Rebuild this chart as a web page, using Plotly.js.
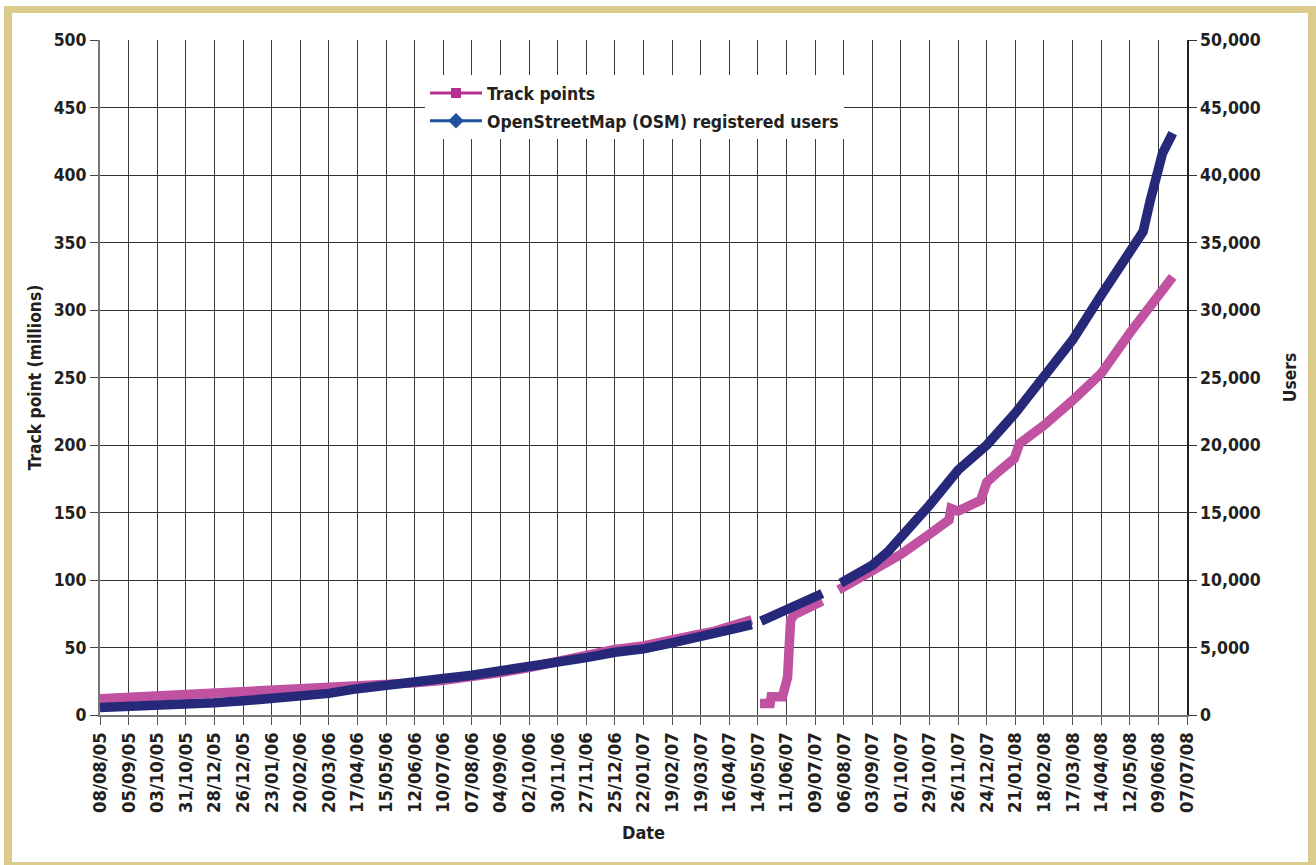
<!DOCTYPE html>
<html>
<head>
<meta charset="utf-8">
<script src="https://cdn.plot.ly/plotly-3.0.1.min.js"></script>
<style>
  html, body { margin:0; padding:0; background:#ffffff; }
  #wrap { position:relative; width:1316px; height:865px; overflow:hidden; background:#fff; }
  #chart { position:absolute; left:0; top:0; width:1316px; height:865px; }
  #frame { position:absolute; left:4px; top:6px; width:1312px; height:859px; box-sizing:border-box;
           border-style:solid; border-color:#dbcb8c; border-width:7px 8px 3px 8px; pointer-events:none; }
</style>
</head>
<body>
<div id="wrap">
  <div id="chart"></div>
  <div id="frame"></div>
</div>
<script>
// ---- tick positions (every 28 days) and the labels printed on the chart ----
const tickDates = [
  '2005-08-08','2005-09-05','2005-10-03','2005-10-31','2005-11-28','2005-12-26','2006-01-23','2006-02-20',
  '2006-03-20','2006-04-17','2006-05-15','2006-06-12','2006-07-10','2006-08-07','2006-09-04','2006-10-02',
  '2006-10-30','2006-11-27','2006-12-25','2007-01-22','2007-02-19','2007-03-19','2007-04-16','2007-05-14',
  '2007-06-11','2007-07-09','2007-08-06','2007-09-03','2007-10-01','2007-10-29','2007-11-26','2007-12-24',
  '2008-01-21','2008-02-18','2008-03-17','2008-04-14','2008-05-12','2008-06-09','2008-07-07'
];
const tickLabels = [
  '08/08/05','05/09/05','03/10/05','31/10/05','28/12/05','26/12/05','23/01/06','20/02/06',
  '20/03/06','17/04/06','15/05/06','12/06/06','10/07/06','07/08/06','04/09/06','02/10/06',
  '30/11/06','27/11/06','25/12/06','22/01/07','19/02/07','19/03/07','16/04/07','14/05/07',
  '11/06/07','09/07/07','06/08/07','03/09/07','01/10/07','29/10/07','26/11/07','24/12/07',
  '21/01/08','18/02/08','17/03/08','14/04/08','12/05/08','09/06/08','07/07/08'
];

// ---- Track points (millions), null = gap in the record ----
const trackDates = [
  '2005-08-08','2005-09-05','2005-10-03','2005-10-31','2005-11-28','2005-12-26','2006-01-23','2006-02-20',
  '2006-03-20','2006-04-17','2006-05-15','2006-06-12','2006-07-10','2006-08-07','2006-09-04','2006-10-02',
  '2006-10-30','2006-11-27','2006-12-25','2007-01-22','2007-02-19','2007-03-19','2007-04-01','2007-04-16',
  '2007-05-08','2007-05-12',
  '2007-05-16','2007-05-26','2007-05-27','2007-06-07','2007-06-12','2007-06-15','2007-06-18','2007-07-01',
  '2007-07-16','2007-07-25',
  '2007-08-01','2007-09-03','2007-10-01','2007-10-29','2007-11-17','2007-11-19','2007-11-26','2007-12-18',
  '2007-12-23','2007-12-24','2008-01-04','2008-01-20','2008-01-25','2008-02-18','2008-03-17','2008-04-14',
  '2008-05-12','2008-06-09','2008-06-23'
];
const trackPoints = [
  12, 13, 14, 15, 16.3, 17.5, 18.3, 19.2,
  20.3, 21.2, 22.3, 23.8, 25.8, 28.3, 31.5, 35.2,
  39.5, 44.5, 48.5, 51.2, 56.5, 60, 62, 66,
  70.5, null,
  8.6, 8.6, 13.6, 13.6, 28, 70, 74, 79,
  84.5, null,
  92.6, 106, 119, 134, 144.5, 153, 151, 159,
  169, 172.5, 180, 190, 201, 214.5, 233, 253,
  283, 310, 324.5
];

// ---- OSM registered users ----
const userDates = [
  '2005-08-08','2005-09-05','2005-10-03','2005-10-31','2005-11-28','2005-12-26','2006-01-23','2006-02-20',
  '2006-03-20','2006-04-17','2006-05-15','2006-06-12','2006-07-10','2006-08-07','2006-09-04','2006-10-02',
  '2006-10-30','2006-11-27','2006-12-25','2007-01-22','2007-02-19','2007-03-19','2007-03-31','2007-04-02',
  '2007-04-16','2007-05-08','2007-05-12',
  '2007-05-17','2007-06-11','2007-07-09','2007-07-16','2007-07-25',
  '2007-08-03','2007-09-03','2007-09-19','2007-10-01','2007-10-29','2007-11-26','2007-12-24','2008-01-21',
  '2008-02-18','2008-03-17','2008-04-14','2008-05-12','2008-05-16','2008-05-25','2008-06-01','2008-06-07',
  '2008-06-13','2008-06-23'
];
const users = [
  550, 600, 680, 780, 900, 1050, 1200, 1350,
  1600, 1950, 2250, 2500, 2700, 2950, 3250, 3600,
  3900, 4250, 4650, 4900, 5350, 5750, 6050, 5950,
  6300, 6700, null,
  6950, 7780, 8600, 9000, null,
  9770, 11100, 12150, 13100, 15550, 18150, 20000, 22370,
  24960, 27780, 31100, 34300, 35000, 35800, 38100, 40000,
  41600, 43100
];

const FONT = '"Liberation Sans Narrow", "Arial Narrow", "DejaVu Sans Condensed", sans-serif';
const TXT = '#231f20';
const PINK = '#c152a2';
const NAVY = '#26287a';

const traces = [
  { x: trackDates, y: trackPoints, type: 'scatter', mode: 'lines', yaxis: 'y',
    line: { color: PINK, width: 9.5 }, connectgaps: false, showlegend: false, hoverinfo: 'skip' },
  { x: userDates, y: users, type: 'scatter', mode: 'lines', yaxis: 'y2',
    line: { color: NAVY, width: 9.5 }, connectgaps: false, showlegend: false, hoverinfo: 'skip' },
  { x: [null], y: [null], type: 'scatter', mode: 'lines+markers', yaxis: 'y', name: 'Track points',
    legendgroup: 'a',
    line: { color: '#b8308f', width: 3 }, marker: { symbol: 'square', size: 10, color: '#b8308f' } },
  { x: [null], y: [null], type: 'scatter', mode: 'lines+markers', yaxis: 'y2', name: 'OpenStreetMap (OSM) registered users',
    legendgroup: 'b',
    line: { color: '#1f4f9f', width: 3 }, marker: { symbol: 'diamond', size: 12, color: '#1f4f9f' } }
];

const tickFont = { family: FONT, size: 17.5, color: TXT, weight: 'bold' };

const layout = {
  width: 1316, height: 865,
  margin: { l: 100, r: 129, t: 40, b: 150, pad: 0 },
  paper_bgcolor: '#ffffff', plot_bgcolor: '#ffffff',
  font: { family: FONT, size: 18, color: TXT, weight: 'bold' },
  showlegend: true,
  legend: {
    x: 0.299, y: 0.948, xanchor: 'left', yanchor: 'top',
    bgcolor: '#ffffff', borderwidth: 0,
    font: { family: FONT, size: 17.5, color: TXT, weight: 'bold' },
    itemwidth: 52, traceorder: 'grouped', tracegroupgap: 2
  },
  xaxis: {
    type: 'date', range: ['2005-08-08', '2008-07-07'],
    tickmode: 'array', tickvals: tickDates, ticktext: tickLabels, tickangle: -90,
    ticks: 'outside', ticklen: 8, tickcolor: '#555', tickwidth: 1,
    showgrid: true, gridcolor: '#3c3c3c', gridwidth: 1,
    showline: true, linecolor: '#777', linewidth: 2, zeroline: false,
    tickfont: { family: FONT, size: 18.3, color: TXT, weight: 'bold' },
    title: { text: 'Date', font: { family: FONT, size: 18, color: TXT, weight: 'bold' }, standoff: 14 }
  },
  yaxis: {
    range: [0, 500], tick0: 0, dtick: 50,
    ticks: 'outside', ticklen: 8, tickcolor: '#444', tickwidth: 1,
    showgrid: true, gridcolor: '#333', gridwidth: 1,
    showline: true, linecolor: '#777', linewidth: 2, zeroline: false,
    tickfont: tickFont,
    title: { text: 'Track point (millions)', font: { family: FONT, size: 17.3, color: TXT, weight: 'bold' }, standoff: 8 }
  },
  yaxis2: {
    overlaying: 'y', side: 'right', range: [0, 50000], tick0: 0, dtick: 5000, tickformat: ',',
    ticks: 'outside', ticklen: 8, tickcolor: '#333', tickwidth: 1,
    showgrid: false, showline: true, linecolor: '#222', linewidth: 1.5, zeroline: false,
    tickfont: tickFont,
    title: { text: 'Users', font: { family: FONT, size: 17.3, color: TXT, weight: 'bold' }, standoff: 24 }
  }
};

Plotly.newPlot('chart', traces, layout, { staticPlot: true, displayModeBar: false });
</script>
</body>
</html>
